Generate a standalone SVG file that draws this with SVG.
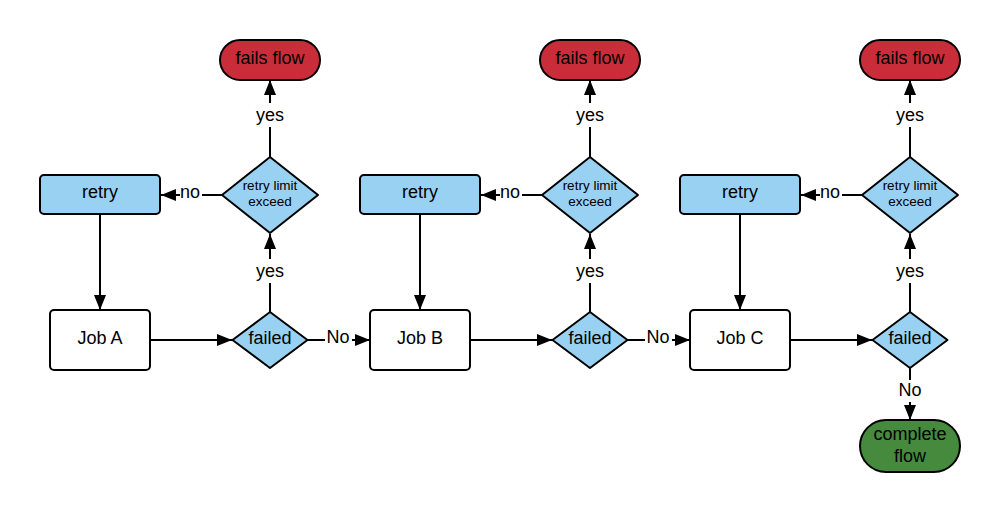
<svg xmlns="http://www.w3.org/2000/svg" width="1000" height="513" viewBox="0 0 1000 513">
<style>
text{font-family:"Liberation Sans",Arial,sans-serif;font-size:18px;fill:#000;text-anchor:middle;dominant-baseline:central}
.s{font-size:13.5px}
.n{stroke:#000;stroke-width:2;stroke-linejoin:round}
.red{fill:#c92d39}.blue{fill:#99d1f3}.white{fill:#fff}.green{fill:#468a3e}
.c line{stroke:#000;stroke-width:2}
.lb{fill:#fff}
</style>
<defs>
<marker id="ah" markerWidth="15" markerHeight="12" refX="15" refY="6" orient="auto" markerUnits="userSpaceOnUse"><path d="M0,0L15,6L0,12z" fill="#000"/></marker>
</defs>
<rect width="1000" height="513" fill="#fff"/>
<g class="c" id="connectors">
<g id="c1">
<line x1="270" y1="312" x2="270" y2="234" marker-end="url(#ah)"/>
<line x1="270" y1="157" x2="270" y2="80" marker-end="url(#ah)"/>
<line x1="222" y1="195" x2="161" y2="195" marker-end="url(#ah)"/>
<line x1="100" y1="214" x2="100" y2="310" marker-end="url(#ah)"/>
<line x1="150" y1="340" x2="232" y2="340" marker-end="url(#ah)"/>
<line x1="307" y1="340" x2="370" y2="340" marker-end="url(#ah)"/>
</g>
<g id="c2">
<line x1="590" y1="312" x2="590" y2="234" marker-end="url(#ah)"/>
<line x1="590" y1="157" x2="590" y2="80" marker-end="url(#ah)"/>
<line x1="542" y1="195" x2="481" y2="195" marker-end="url(#ah)"/>
<line x1="420" y1="214" x2="420" y2="310" marker-end="url(#ah)"/>
<line x1="470" y1="340" x2="552" y2="340" marker-end="url(#ah)"/>
<line x1="627" y1="340" x2="690" y2="340" marker-end="url(#ah)"/>
</g>
<g id="c3">
<line x1="910" y1="312" x2="910" y2="234" marker-end="url(#ah)"/>
<line x1="910" y1="157" x2="910" y2="80" marker-end="url(#ah)"/>
<line x1="862" y1="195" x2="801" y2="195" marker-end="url(#ah)"/>
<line x1="740" y1="214" x2="740" y2="310" marker-end="url(#ah)"/>
<line x1="790" y1="340" x2="872" y2="340" marker-end="url(#ah)"/>
<line x1="910" y1="368" x2="910" y2="420" marker-end="url(#ah)"/>
</g>
<g id="labels">
<rect class="lb" x="253" y="103" width="34" height="24"/><text x="270" y="115">yes</text>
<rect class="lb" x="253" y="259" width="34" height="24"/><text x="270" y="271">yes</text>
<rect class="lb" x="180" y="183" width="22" height="22"/><text x="190" y="192">no</text>
<rect class="lb" x="325" y="328" width="27" height="22"/><text x="338" y="337">No</text>
<rect class="lb" x="573" y="103" width="34" height="24"/><text x="590" y="115">yes</text>
<rect class="lb" x="573" y="259" width="34" height="24"/><text x="590" y="271">yes</text>
<rect class="lb" x="500" y="183" width="22" height="22"/><text x="510" y="192">no</text>
<rect class="lb" x="645" y="328" width="27" height="22"/><text x="658" y="337">No</text>
<rect class="lb" x="893" y="103" width="34" height="24"/><text x="910" y="115">yes</text>
<rect class="lb" x="893" y="259" width="34" height="24"/><text x="910" y="271">yes</text>
<rect class="lb" x="820" y="183" width="22" height="22"/><text x="830" y="192">no</text>
<rect class="lb" x="897" y="380" width="27" height="22"/><text x="910" y="390">No</text>
</g>
</g>
<g id="fails1"><rect class="n red" x="220" y="40" width="100" height="40" rx="20"/><text x="270" y="58">fails flow</text></g>
<g id="limit1"><path class="n blue" d="M270,157L318,195L270,233L222,195z"/><text class="s" x="270" y="185">retry limit</text><text class="s" x="270" y="201">exceed</text></g>
<g id="retry1"><rect class="n blue" x="40" y="175" width="120" height="39" rx="4"/><text x="100" y="192">retry</text></g>
<g id="jobA"><rect class="n white" x="50" y="310" width="100" height="60" rx="4"/><text x="100" y="338">Job A</text></g>
<g id="failed1"><path class="n blue" d="M270,312L307.5,340L270,368L232.5,340z"/><text x="270" y="338">failed</text></g>

<g id="fails2"><rect class="n red" x="540" y="40" width="100" height="40" rx="20"/><text x="590" y="58">fails flow</text></g>
<g id="limit2"><path class="n blue" d="M590,157L638,195L590,233L542,195z"/><text class="s" x="590" y="185">retry limit</text><text class="s" x="590" y="201">exceed</text></g>
<g id="retry2"><rect class="n blue" x="360" y="175" width="120" height="39" rx="4"/><text x="420" y="192">retry</text></g>
<g id="jobB"><rect class="n white" x="370" y="310" width="100" height="60" rx="4"/><text x="420" y="338">Job B</text></g>
<g id="failed2"><path class="n blue" d="M590,312L627.5,340L590,368L552.5,340z"/><text x="590" y="338">failed</text></g>

<g id="fails3"><rect class="n red" x="860" y="40" width="100" height="40" rx="20"/><text x="910" y="58">fails flow</text></g>
<g id="limit3"><path class="n blue" d="M910,157L958,195L910,233L862,195z"/><text class="s" x="910" y="185">retry limit</text><text class="s" x="910" y="201">exceed</text></g>
<g id="retry3"><rect class="n blue" x="680" y="175" width="120" height="39" rx="4"/><text x="740" y="192">retry</text></g>
<g id="jobC"><rect class="n white" x="690" y="310" width="100" height="60" rx="4"/><text x="740" y="338">Job C</text></g>
<g id="failed3"><path class="n blue" d="M910,312L947.5,340L910,368L872.5,340z"/><text x="910" y="338">failed</text></g>

<g id="complete"><rect class="n green" x="860" y="420" width="100" height="52" rx="26"/><text x="910" y="434">complete</text><text x="910" y="456">flow</text></g>
</svg>
